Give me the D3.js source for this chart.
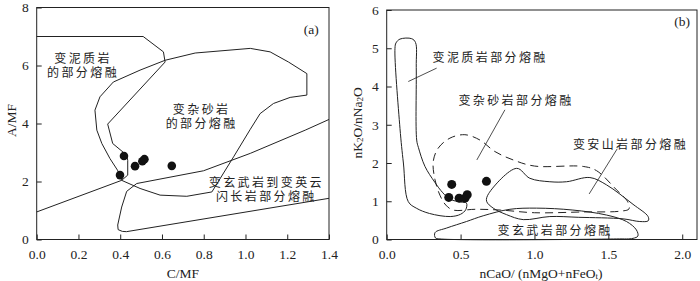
<!DOCTYPE html>
<html>
<head>
<meta charset="utf-8">
<script src="https://cdn.jsdelivr.net/npm/d3@7"></script>
<style>
  body { margin: 0; background: #fff; }
  svg { display: block; }
  .num { font-family: "Liberation Serif", "DejaVu Serif", serif; font-size: 13.5px; fill: #222; }
  .cjk { font-family: "Noto Sans CJK SC", sans-serif; font-size: 12px; letter-spacing: 2.4px; fill: #222; }
</style>
</head>
<body>
<div id="chart"></div>
<script>
const width = 700
const height = 281

// ---- panel (a): A/MF vs C/MF ----
const xTicksA = [0, 0.2, 0.4, 0.6, 0.8, 1.0, 1.2, 1.4]
const yTicksA = [0, 2, 4, 6, 8]
// 变泥质岩 field boundary (open, closed by the left axis)
const pelitesA = [[0,7],[0.51,7],[0.607,6.47],[0.615,6.12],[0.34,3.98],[0.364,3.31],[0.431,2.91],[0.436,2.73],[0.436,2.22],[0.407,2.04],[0,0.95]]
// 变杂砂岩 field (closed loop)
const greywackeA = [[0.279,4.46],[0.303,4.92],[0.367,5.43],[0.495,5.84],[0.615,6.18],[0.759,6.43],[1.023,6.59],[1.118,6.47],[1.206,6.12],[1.294,5.72],[1.294,4.98],[1.214,4.9],[1.134,4.69],[1.07,4.34],[1.023,3.8],[0.943,2.85],[0.839,1.64],[0.719,1.49],[0.591,1.53],[0.495,1.76],[0.407,2.04],[0.387,2.39],[0.351,2.79],[0.312,3.31],[0.288,3.77]]
// 变玄武岩到变英云闪长岩 field (open, closed by right axis)
const amphiboliteA = [[1.4,4.14],[1.286,3.77],[1.023,2.97],[0.799,2.37],[0.479,1.93],[0.431,1.66],[0.407,1.12],[0.388,0.5],[0.39,0.34],[0.41,0.28],[0.43,0.27],[1.4,1.42]]
const sampleCA = [0.399, 0.418, 0.471, 0.506, 0.516, 0.647]
const sampleAA = [2.22, 2.88, 2.53, 2.70, 2.77, 2.54]

// ---- panel (b): nK2O/nNa2O vs nCaO/(nMgO+nFeOt) ----
const xTicksB = [0, 0.5, 1.0, 1.5, 2.0]
const yTicksB = [0, 1, 2, 3, 4, 5, 6]
const pelitesB = [[0.063,5.14],[0.09,5.24],[0.169,5.25],[0.195,5.15],[0.2,4.5],[0.203,2.6],[0.215,2.4],[0.259,1.91],[0.325,1.5],[0.38,1.22],[0.43,1.05],[0.5,0.98],[0.54,0.95],[0.535,0.78],[0.5,0.66],[0.43,0.6],[0.29,0.68],[0.2,0.82],[0.146,0.99],[0.113,2.0],[0.09,2.9],[0.056,5.0]]
const greywackeB = [[0.315,2.04],[0.349,2.39],[0.428,2.65],[0.529,2.74],[0.631,2.60],[0.732,2.30],[0.856,2.08],[1.0,1.92],[1.33,1.91],[1.42,1.80],[1.555,1.30],[1.63,0.99],[1.64,0.80],[1.58,0.74],[1.33,0.72],[1.0,0.70],[0.77,0.77],[0.6,0.79],[0.45,0.77],[0.40,0.90],[0.36,1.16],[0.327,1.56]]
const andesiteB = [[0.879,1.86],[0.969,1.60],[1.104,1.51],[1.217,1.51],[1.375,1.62],[1.487,1.43],[1.667,0.92],[1.769,0.60],[1.77,0.49],[1.713,0.47],[1.60,0.54],[1.3,0.58],[1.104,0.60],[0.924,0.52],[0.811,0.65],[0.721,0.82],[0.676,1.0],[0.69,1.2]]
const basaltB = [[0.33,0.04],[0.327,0.18],[0.406,0.30],[0.54,0.47],[0.653,0.62],[0.834,0.79],[1.014,0.82],[1.26,0.77],[1.487,0.64],[1.623,0.47],[1.69,0.25],[1.70,0.09],[1.667,0.03],[1.555,0.015],[0.36,0.015]]
const sampleCaB = [0.44, 0.675, 0.42, 0.49, 0.53, 0.545]
const sampleKB = [1.44, 1.52, 1.10, 1.08, 1.08, 1.17]

const svg = d3.select("#chart").append("svg")
    .attr("width", width)
    .attr("height", height)

function frame(g, x, y, xTicks, yTicks, fmtX) {
    const [x0, x1] = x.range()
    const [y0, y1] = y.range()
    g.append("g")
        .attr("transform", `translate(0,${y0})`)
        .call(d3.axisBottom(x).tickValues(xTicks).tickFormat(fmtX).tickSizeInner(-5).tickSizeOuter(0).tickPadding(10))
    g.append("g")
        .attr("transform", `translate(${x0},0)`)
        .call(d3.axisLeft(y).tickValues(yTicks).tickFormat(d3.format("d")).tickSizeInner(-5).tickSizeOuter(0).tickPadding(8))
    g.selectAll(".domain").remove()
    g.selectAll(".tick line").attr("stroke", "#222")
    g.selectAll(".tick text").attr("class", "num").attr("fill", null).style("font-size", "13.5px").style("font-family", "Liberation Serif, serif")
    g.append("rect")
        .attr("x", x0).attr("y", y1)
        .attr("width", x1 - x0).attr("height", y0 - y1)
        .attr("fill", "none").attr("stroke", "#222").attr("stroke-width", 1)
}

// one <text> per line so the lines stay separate boxes
function cjkLabel(g, lines, cx, cy, gap) {
    lines.forEach((s, i) => {
        g.append("text").attr("class", "cjk").attr("text-anchor", "middle")
            .attr("x", cx).attr("y", cy + i * gap)
            .attr("dominant-baseline", "central").text(s)
    })
}

// ===== panel (a) =====
const xa = d3.scaleLinear([0, 1.4], [36.7, 329])
const ya = d3.scaleLinear([0, 8], [239.5, 7.5])
const ga = svg.append("g")
frame(ga, xa, ya, xTicksA, yTicksA, d3.format(".1f"))

const lineA = d3.line().x(d => xa(d[0])).y(d => ya(d[1]))
const fieldsA = ga.append("g").attr("fill", "none").attr("stroke", "#222").attr("stroke-width", 1)
fieldsA.append("path").attr("d", lineA(pelitesA))
fieldsA.append("path").attr("d", lineA(greywackeA) + "Z")
fieldsA.append("path").attr("d", lineA(amphiboliteA))

ga.append("g").selectAll("circle")
    .data(d3.range(sampleCA.length))
    .join("circle")
    .attr("cx", i => xa(sampleCA[i]))
    .attr("cy", i => ya(sampleAA[i]))
    .attr("r", 4.3)
    .attr("fill", "#111")

cjkLabel(ga, ["变泥质岩", "的部分熔融"], xa(0.222), ya(6.29), 14)
cjkLabel(ga, ["变杂砂岩", "的部分熔融"], xa(0.79), ya(4.53), 14)
cjkLabel(ga, ["变玄武岩到变英云", "闪长岩部分熔融"], xa(1.1), ya(1.99), 13.5)

ga.append("text").attr("class", "num").attr("x", xa(1.315)).attr("y", ya(7.25))
    .attr("text-anchor", "middle").attr("dominant-baseline", "central").text("(a)")
ga.append("text").attr("class", "num")
    .attr("transform", `translate(11,${ya(4.1)}) rotate(-90)`)
    .attr("text-anchor", "middle").attr("dominant-baseline", "central").text("A/MF")
ga.append("text").attr("class", "num").attr("x", xa(0.7)).attr("y", 273)
    .attr("text-anchor", "middle").attr("dominant-baseline", "central").text("C/MF")

// ===== panel (b) =====
const xb = d3.scaleLinear([0, 2.1], [386.7, 697])
const yb = d3.scaleLinear([0, 6], [239.5, 10])
const gb = svg.append("g")
frame(gb, xb, yb, xTicksB, yTicksB, d3.format(".1f"))

const smooth = d3.line().x(d => xb(d[0])).y(d => yb(d[1])).curve(d3.curveCatmullRomClosed.alpha(0.5))
const fieldsB = gb.append("g").attr("fill", "none").attr("stroke", "#222").attr("stroke-width", 1)
fieldsB.append("path").attr("d", smooth(pelitesB))
fieldsB.append("path").attr("d", smooth(greywackeB)).attr("stroke-dasharray", "8,5")
fieldsB.append("path").attr("d", smooth(andesiteB))
fieldsB.append("path").attr("d", smooth(basaltB))

// leader lines from labels to fields
const leaders = [
    [[0.146, 4.13], [0.338, 4.48]],
    [[0.61, 2.08], [0.80, 3.39]],
    [[1.37, 1.19], [1.56, 2.37]]
]
gb.append("g").selectAll("line")
    .data(leaders)
    .join("line")
    .attr("x1", d => xb(d[0][0])).attr("y1", d => yb(d[0][1]))
    .attr("x2", d => xb(d[1][0])).attr("y2", d => yb(d[1][1]))
    .attr("stroke", "#222").attr("stroke-width", 0.8)

gb.append("g").selectAll("circle")
    .data(d3.range(sampleCaB.length))
    .join("circle")
    .attr("cx", i => xb(sampleCaB[i]))
    .attr("cy", i => yb(sampleKB[i]))
    .attr("r", 4.5)
    .attr("fill", "#111")

cjkLabel(gb, ["变泥质岩部分熔融"], xb(0.70), yb(4.78), 0)
cjkLabel(gb, ["变杂砂岩部分熔融"], xb(0.875), yb(3.65), 0)
cjkLabel(gb, ["变安山岩部分熔融"], xb(1.65), yb(2.51), 0)
cjkLabel(gb, ["变玄武岩部分熔融"], xb(1.14), yb(0.25), 0)

gb.append("text").attr("class", "num").attr("x", xb(2.0)).attr("y", yb(5.7))
    .attr("text-anchor", "middle").attr("dominant-baseline", "central").text("(b)")

const ylab = gb.append("text").attr("class", "num")
    .attr("transform", `translate(357,${yb(3.05)}) rotate(-90)`)
    .attr("text-anchor", "middle").attr("dominant-baseline", "central")
ylab.append("tspan").text("nK")
ylab.append("tspan").attr("font-size", "9px").attr("dy", 3).text("2")
ylab.append("tspan").attr("dy", -3).text("O/nNa")
ylab.append("tspan").attr("font-size", "9px").attr("dy", 3).text("2")
ylab.append("tspan").attr("dy", -3).text("O")

const xlab = gb.append("text").attr("class", "num")
    .attr("x", 541).attr("y", 273)
    .attr("text-anchor", "middle").attr("dominant-baseline", "central")
xlab.append("tspan").text("nCaO/ (nMgO+nFeO")
xlab.append("tspan").attr("font-size", "9px").attr("dy", 3).text("t")
xlab.append("tspan").attr("dy", -3).text(")")
</script>
</body>
</html>
